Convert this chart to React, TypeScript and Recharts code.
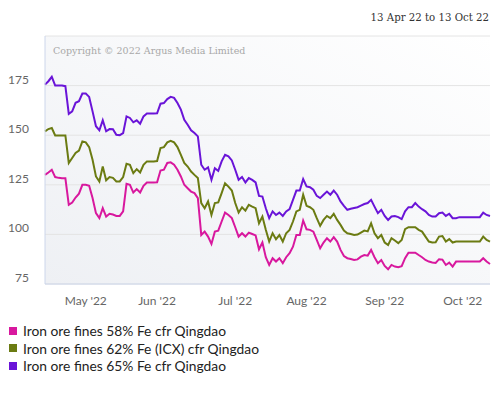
import React from "react";
import {
  LineChart,
  Line,
  XAxis,
  YAxis,
  CartesianGrid,
} from "recharts";

// daily assessments, 13 Apr 22 - 13 Oct 22 ($/t)
const fines58 = [
  130, 131.2, 132.6, 128.9, 128.5, 128.3, 128.3, 114.9, 116.1, 118.6, 120.5, 125, 125, 124.5, 118.3, 110.7, 108.2, 113.2, 109, 110.4, 110, 109.3,
  109.3, 111.6, 125.5, 125, 121.1, 122.8, 121.1, 124.5, 126.2, 126.2, 126.2, 126.3, 132.2, 132.6, 136, 136.3, 135.1, 132.6, 129.2, 125, 123.3, 121.6,
  120.8, 118.3, 99.7, 101.4, 98.9, 95.2, 101.4, 101.9, 106.5, 111, 109.8, 108.2, 103.6, 98.9, 100.6, 98.9, 100.9, 100.2, 99.5, 92.5, 95.9, 88.5, 84.6, 88,
  86.3, 88, 85.5, 88.5, 90.5, 93.8, 99.7, 99.7, 107, 102.6, 102.3, 101.4, 97.2, 93, 95.9, 98.1, 96.4, 98.6, 96.4, 92.2, 89.1, 88,
  87.6, 87.1, 87.4, 88.8, 89.6, 89.3, 92.2, 88.5, 85.5, 87.1, 84.1, 82.4, 84.6, 83.8, 83.5, 84, 88, 90.8, 90.8, 90.8, 89.6, 88.5, 87.1,
  86.3, 85.8, 85.6, 87.5, 87.3, 84.6, 85.8, 83.8, 86.3, 86.3, 86.3, 86.3, 86.3, 86.3, 86.3, 86.3, 88, 86.3, 85.1,
];

const fines62 = [
  151.9, 153.1, 153.6, 149.9, 149.9, 149.9, 149.9, 136, 138.5, 141, 142.2, 146.9, 146.4, 144, 137.6, 129.2, 126.7, 134.2, 127.3, 128.9, 128.5, 126.7,
  126.7, 128.9, 135.6, 135.1, 130.9, 132.9, 131.2, 135.1, 136.8, 136.8, 136.8, 137, 143.5, 144, 146.4, 147.2, 146.4, 144, 140.1, 136, 134.2, 131.7,
  130, 128.4, 115.8, 113.2, 116.6, 109.8, 115.8, 116.1, 120.8, 125.8, 124.1, 122.1, 115.8, 111, 113.7, 112, 114.9, 114, 113.2, 105.6, 109, 102.3, 96.4, 100.6,
  97.6, 99.7, 96.4, 100.6, 102.3, 106.5, 111.6, 112.4, 120, 114.4, 113.7, 112.4, 108.2, 104.3, 107.3, 109.3, 108.2, 110.4, 107.3, 104.8, 101.9, 100.6,
  100.2, 99.7, 99.9, 100.9, 101.9, 101.5, 105.6, 100.6, 98.1, 99.7, 95.9, 94.7, 98.1, 96.9, 95.6, 97.2, 102.6, 103.6, 103.6, 103.6, 102.3, 101.4, 98.9,
  96.4, 95.9, 96, 98.9, 99.2, 96.4, 97.6, 95.9, 96.4, 96.4, 96.4, 96.4, 96.4, 96.4, 96.4, 96.4, 98.9, 97.2, 96.4,
];

const fines65 = [
  175.5, 177.2, 179.4, 175, 175, 175, 174.7, 160.7, 162, 166.3, 167.1, 171, 171, 169.3, 162, 154.5, 152.5, 157.5, 152, 153.1, 153, 150.2,
  150, 151, 159.5, 158.7, 156.5, 157.5, 155.8, 159.5, 160.9, 160.9, 160.9, 161, 165.9, 166.2, 168.2, 169.3, 168.8, 166.2, 162.9, 157.8, 155.3, 152.5,
  151.1, 149.4, 135.1, 132.6, 133.8, 127.5, 133.4, 132, 136.8, 140.1, 139.3, 137.3, 132.6, 127.5, 128.9, 126.2, 128.4, 127.5, 126.2, 119.4, 119.1, 113.2, 108.2, 111.6,
  109.8, 111, 109.3, 111.6, 112.7, 117.4, 122.1, 122.1, 127.9, 124.2, 123.8, 122.5, 119.4, 118.3, 120, 121.6, 120, 122.1, 120, 116.6, 114.4, 112.4,
  112.9, 113.3, 113.7, 114.5, 115.3, 115.8, 117.4, 114, 110.7, 112.4, 109.3, 107.3, 109, 109.3, 108.7, 107.7, 111.6, 113.7, 113.7, 115.8, 114, 112.7, 111.6,
  109.8, 109, 109, 110.7, 111, 109.3, 110.4, 108.2, 108.2, 108.7, 108.7, 108.7, 108.7, 108.7, 108.7, 108.7, 111, 109.8, 109.3,
];

// month label positions (index into the daily series)
const monthTickIdx = [12, 33, 56, 77, 100, 123];
const monthLabels = ["May '22", "Jun '22", "Jul '22", "Aug '22", "Sep '22", "Oct '22"];

const yTicks = [75, 100, 125, 150, 175, 200];

const seriesNames = [
  "Iron ore fines 58% Fe cfr Qingdao",
  "Iron ore fines 62% Fe (ICX) cfr Qingdao",
  "Iron ore fines 65% Fe cfr Qingdao",
];
const seriesColors = ["#d8189e", "#6b7b12", "#6a14d8"];

const data = fines58.map((v, i) => ({
  i,
  f58: v,
  f62: fines62[i],
  f65: fines65[i],
}));

const FONT = "Lato, 'Open Sans', sans-serif";

const YTick = (props: any) => {
  const { x, y, payload } = props;
  if (payload.value === 200) return null;
  return (
    <text
      x={x}
      y={y - 6.5}
      textAnchor="end"
      dominantBaseline="central"
      fill="#666666"
      fontSize={12}
      fontFamily={FONT}
    >
      {payload.value}
    </text>
  );
};

export default function App() {
  return (
    <div
      style={{
        position: "absolute",
        left: 0,
        top: 0,
        width: 500,
        height: 394,
        background: "#fff",
      }}
    >
      <div
        style={{
          position: "absolute",
          right: 11,
          top: 12,
          fontFamily: "'DejaVu Serif', serif",
          fontSize: 10.2,
          color: "#333",
        }}
      >
        13 Apr 22 to 13 Oct 22
      </div>

      <LineChart
        width={500}
        height={314}
        data={data}
        margin={{ top: 36, right: 10, left: 0, bottom: 0 }}
      >
        <defs>
          <linearGradient id="plotBg" x1="1" y1="0" x2="0" y2="1">
            <stop offset="0%" stopColor="#ffffff" />
            <stop offset="100%" stopColor="#eef0f4" />
          </linearGradient>
        </defs>
        <CartesianGrid
          vertical={false}
          stroke="#e4e4e4"
          fill="url(#plotBg)"
          fillOpacity={1}
        />
        <XAxis
          type="number"
          dataKey="i"
          domain={[0, fines58.length - 1]}
          ticks={monthTickIdx}
          tickFormatter={(v: number) => monthLabels[monthTickIdx.indexOf(v)]}
          axisLine={{ stroke: "#ccd6eb" }}
          tickLine={false}
          tickSize={0}
          tickMargin={12}
          height={30}
          tick={{ fill: "#666666", fontSize: 12, fontFamily: FONT }}
          interval={0}
        />
        <YAxis
          domain={[75, 200]}
          ticks={yTicks}
          width={45}
          axisLine={{ stroke: "#ccd6eb" }}
          tickLine={false}
          tickSize={0}
          tickMargin={16}
          tick={<YTick />}
          interval={0}
        />
        <text
          x={53}
          y={50}
          dominantBaseline="central"
          fill="#a8a8a8"
          fontSize={9.5}
          fontFamily="'DejaVu Serif', serif"
        >
          Copyright © 2022 Argus Media Limited
        </text>
        <Line
          type="linear"
          dataKey="f58"
          stroke={seriesColors[0]}
          strokeWidth={2}
          dot={false}
          isAnimationActive={false}
        />
        <Line
          type="linear"
          dataKey="f62"
          stroke={seriesColors[1]}
          strokeWidth={2}
          dot={false}
          isAnimationActive={false}
        />
        <Line
          type="linear"
          dataKey="f65"
          stroke={seriesColors[2]}
          strokeWidth={2}
          dot={false}
          isAnimationActive={false}
        />
      </LineChart>

      <div
        style={{
          position: "absolute",
          left: 8,
          top: 322,
          fontFamily: FONT,
          fontSize: 13.8,
          color: "#222",
        }}
      >
        {seriesNames.map((name, k) => (
          <div
            key={name}
            style={{ display: "flex", alignItems: "center", height: 17.5 }}
          >
            <span
              style={{
                display: "inline-block",
                width: 8,
                height: 8,
                background: seriesColors[k],
                marginRight: 6,
                marginLeft: 1,
              }}
            />
            {name}
          </div>
        ))}
      </div>
    </div>
  );
}
